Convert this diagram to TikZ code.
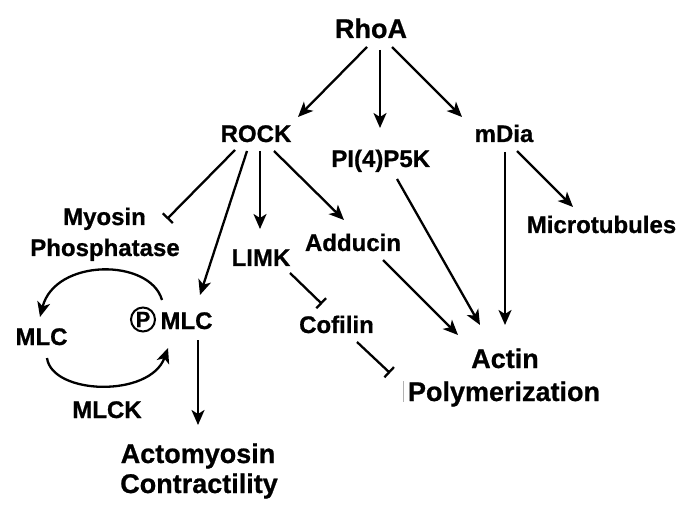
\documentclass[tikz,border=0pt]{standalone}
\usepackage{fontspec}
\setmainfont{Liberation Sans}[BoldFeatures={FakeBold=0.8}]
\usetikzlibrary{arrows.meta,calc}
\tikzset{
  lbl/.style={anchor=base,inner sep=0pt,font=\fontsize{24}{28}\selectfont\bfseries},
  big/.style={anchor=base,inner sep=0pt,font=\fontsize{27}{31}\selectfont\bfseries},
  act/.style={line width=2.3pt,-{Stealth[length=15pt,width=13pt,inset=4pt]}},
  inh/.style={line width=2.3pt,-{Bar[width=14pt,line width=2.3pt]}},
}
\begin{document}
\begin{tikzpicture}[x=1pt,y=-1pt]
\useasboundingbox (0,0) rectangle (696,521);
% nodes (anchored at baselines)
\node[big] (rhoa) at (371,38) {RhoA};
\node[lbl] (rock) at (256,142) {ROCK};
\node[lbl] (pip) at (380.7,167) {PI(4)P5K};
\node[lbl] (mdia) at (504,142) {mDia};
\node[lbl] (myo) at (104.5,225) {Myosin};
\node[lbl] (phos) at (105,256) {Phosphatase};
\node[lbl] (limk) at (261,266) {LIMK};
\node[lbl] (add) at (353,251) {Adducin};
\node[lbl] (micro) at (601.5,233) {Microtubules};
\node[lbl] (mlc) at (41.5,345) {MLC};
\node[lbl] (pmlc) at (186.5,329) {MLC};
\node[draw,circle,line width=2pt,minimum size=24pt,inner sep=0pt,
      font=\fontsize{22}{24}\selectfont\bfseries] (pc) at (143,319.5) {P};
\node[lbl] (cof) at (336.5,333) {Cofilin};
\node[big] (actin) at (505,368) {Actin};
\node[big] (poly) at (504,401) {Polymerization};
\node[lbl] (mlck) at (107,418) {MLCK};
\node[big] (acto) at (198,463) {Actomyosin};
\node[big] (contr) at (199,493) {Contractility};
% RhoA branches
\draw[act] ($(rhoa.base)+(-4,9)$) -- ($(rock.base)+(42,-25)$);
\draw[act] ($(rhoa.base)+(9,12)$) -- ($(pip.base)+(-0.7,-39)$);
\draw[act] ($(rhoa.base)+(21,9)$) -- ($(mdia.base)+(-42,-25)$);
% ROCK branches
\draw[inh] ($(rock.base)+(-21,8)$) -- ($(myo.base)+(62.5,-6)$);
\draw[act] ($(rock.base)+(-9,9)$) -- ($(pmlc.base)+(13.5,-34)$);
\draw[act] ($(rock.base)+(4,9)$) -- ($(limk.base)+(-1,-37)$);
\draw[act] ($(rock.base)+(18,9)$) -- ($(add.base)+(-9,-31)$);
% to actin polymerization
\draw[act] ($(pip.base)+(16.3,12)$) -- ($(actin.base)+(-25,-43)$);
\draw[act] ($(mdia.base)+(1,10)$) -- ($(actin.base)+(0,-43)$);
\draw[act] ($(mdia.base)+(13,9)$) -- ($(micro.base)+(-28.5,-26)$);
\draw[act] ($(add.base)+(30,9)$) -- ($(actin.base)+(-47,-33)$);
\draw[inh] ($(limk.base)+(29,7)$) -- ($(cof.base)+(-14.5,-29)$);
\draw[inh] ($(cof.base)+(20.5,9)$) -- ($(poly.base)+(-114,-28)$);
% MLC cycle
\draw[act] ($(pmlc.base)+(-24.5,-29)$) .. controls (150,258) and (55,258) .. ($(mlc.base)+(-1.5,-28)$);
\draw[act] ($(mlc.base)+(5.5,13)$) .. controls (52,395) and (150,398) .. ($(pmlc.base)+(-18.5,19)$);
\draw[act] ($(pmlc.base)+(11.5,11)$) -- ($(acto.base)+(0,-38)$);
% faint mark before Polymerization
\draw[gray!60,line width=0.7pt] ($(poly.base)+(-101,-20)$) -- ($(poly.base)+(-101,1)$);
\end{tikzpicture}
\end{document}
